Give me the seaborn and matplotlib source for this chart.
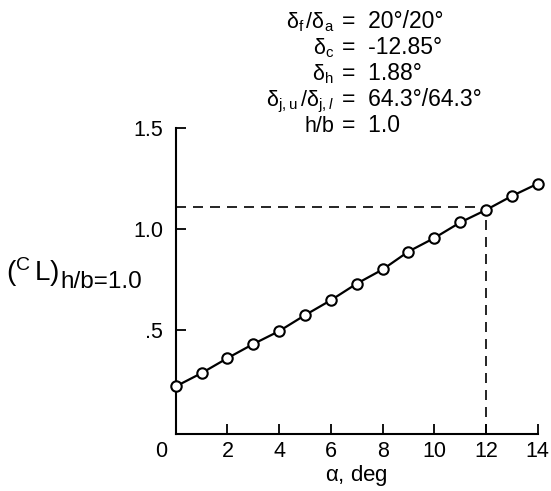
import matplotlib
matplotlib.use("Agg")
import matplotlib.pyplot as plt
from matplotlib.transforms import ScaledTranslation
import pandas as pd
import seaborn as sns

# lift coefficient vs angle of attack
alpha = [0, 1, 2, 3, 4, 5, 6, 7, 8, 9, 10, 11, 12, 13, 14]
cl = [0.221, 0.287, 0.361, 0.431, 0.495, 0.574, 0.648, 0.730,
      0.800, 0.889, 0.956, 1.033, 1.095, 1.164, 1.225]

# reference lines
alpha_ref = 12
cl_ref = 1.11

x_ticks = [0, 2, 4, 6, 8, 10, 12, 14]
y_ticks = [0.5, 1.0, 1.5]
y_tick_labels = [".5", "1.0", "1.5"]

# test conditions
cond_names = [r"$\delta_f\,/\delta_a$", r"$\delta_c$", r"$\delta_h$",
              r"$\delta_{j,u}\,/\delta_{j,\mathit{l}}$", "h/b"]
cond_values = ["=  20°/20°", "=  -12.85°", "=  1.88°", "=  64.3°/64.3°",
               "=  1.0"]

df = pd.DataFrame({"alpha": alpha, "cl": cl})

sns.set_style("ticks", rc={"text.color": "black", "axes.labelcolor": "black",
                           "xtick.color": "black", "ytick.color": "black",
                           "axes.edgecolor": "black"})
plt.rcParams["font.family"] = ["Liberation Sans", "DejaVu Sans"]
plt.rcParams["mathtext.fontset"] = "custom"
plt.rcParams["mathtext.rm"] = "Liberation Sans"
plt.rcParams["mathtext.it"] = "Liberation Sans:italic"
plt.rcParams["mathtext.default"] = "regular"

fig = plt.figure(figsize=(5.51, 4.91), dpi=100)
ax = fig.add_axes([0.319, 0.116, 0.657, 0.623])

dash = (0, (6, 4.2))
ax.hlines(cl_ref, 0, alpha_ref, colors="black", linestyles=[dash],
          linewidth=1.2)
ax.vlines(alpha_ref, -0.015, cl_ref, colors="black", linestyles=[dash],
          linewidth=1.2)

sns.lineplot(data=df, x="alpha", y="cl", color="black", linewidth=1.6,
             marker="o", markersize=7.5, markerfacecolor="white",
             markeredgecolor="black", markeredgewidth=1.5, clip_on=False,
             zorder=3, ax=ax)

ax.set_xlim(0, 14)
ax.set_ylim(-0.015, 1.5)
ax.set_xticks(x_ticks)
ax.set_yticks(y_ticks)
ax.set_yticklabels(y_tick_labels)
sns.despine(ax=ax)
for s in ["left", "bottom"]:
    ax.spines[s].set_linewidth(1.5)
ax.tick_params(axis="both", direction="in", length=7, width=1.3,
               labelsize=15.5)
ax.tick_params(axis="y", pad=9)
ax.tick_params(axis="x", pad=5)

# the "0" sits left of the corner
lbl0 = ax.get_xticklabels()[0]
lbl0.set_transform(lbl0.get_transform() +
                   ScaledTranslation(-0.15, 0, fig.dpi_scale_trans))

ax.set_xlabel(r"$\alpha$, deg", fontsize=16, labelpad=1)
ax.set_ylabel("")

# y label: (C L) with big subscript
t1 = fig.text(6 / 551, 1 - 281 / 491, r"$(^{C}\,L)$", fontsize=20,
              ha="left", va="baseline")
ax.annotate("h/b=1.0", xy=(1, 0), xycoords=t1, xytext=(0.5, -3),
            textcoords="offset points", fontsize=17.5, ha="left",
            va="bottom")

# conditions block
base = [28, 54, 80, 106, 132]
for name, val, y in zip(cond_names, cond_values, base):
    fig.text(334 / 551, 1 - y / 491, name, fontsize=15.5, ha="right",
             va="baseline")
    fig.text(342 / 551, 1 - y / 491, val, fontsize=16.5, ha="left",
             va="baseline")

plt.savefig("out.png", dpi=100)
